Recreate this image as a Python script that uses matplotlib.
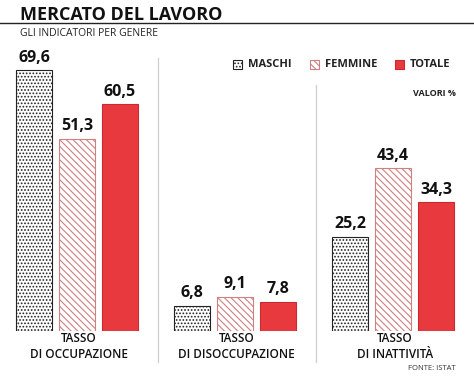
import numpy as np
import matplotlib
matplotlib.use("Agg")
import matplotlib.pyplot as plt
from matplotlib.patches import Rectangle
from matplotlib import transforms

plt.rcParams['font.family'] = ['Open Sans', 'DejaVu Sans']
plt.rcParams['hatch.linewidth'] = 0.8

# data
categories = ["TASSO\nDI OCCUPAZIONE", "TASSO\nDI DISOCCUPAZIONE", "TASSO\nDI INATTIVITÀ"]
series_names = ["MASCHI", "FEMMINE", "TOTALE"]
maschi = [69.6, 6.8, 25.2]
femmine = [51.3, 9.1, 43.4]
totale = [60.5, 7.8, 34.3]

red = '#e8393f'
pink = '#cf8080'

fig = plt.figure(figsize=(4.74, 3.77), dpi=100)
ax = fig.add_axes([0, 46/377, 1, 300/377])
ax.set_xlim(-77/158, (474-77)/158)
ax.set_ylim(0, 80)
ax.axis('off')

x = np.arange(len(categories))
w = 0.228
off = 0.272
styles = [
    dict(facecolor='white', edgecolor='#222222', hatch='.....', linewidth=0.8),
    dict(facecolor='white', edgecolor=pink, hatch='\\\\\\\\\\', linewidth=0.8),
    dict(facecolor=red, edgecolor='#c92a30', linewidth=0.8),
]
for j, vals in enumerate([maschi, femmine, totale]):
    bars = ax.bar(x + (j - 1) * off, vals, width=w, **styles[j])
    for b, v in zip(bars, vals):
        ax.text(b.get_x() + b.get_width()/2, v + 1.2, f"{v:.1f}".replace('.', ','),
                ha='center', va='bottom', fontsize=11.5, fontweight='bold', color='#111111')

for i, c in enumerate(categories):
    ax.text(i + 0.01, -0.3, c, ha='center', va='top', fontsize=8.5, fontweight='semibold',
            color='#111111', linespacing=1.25)

# separators
tr = transforms.blended_transform_factory(ax.transData, fig.transFigure)
ax.plot([0.51, 0.51], [1-58/377, 1-362/377], transform=tr, color='#cfcfcf', lw=0.9, clip_on=False)
ax.plot([1.51, 1.51], [1-85/377, 1-362/377], transform=tr, color='#cfcfcf', lw=0.9, clip_on=False)

# title
fig.text(20/474, 1-20/377, "MERCATO DEL LAVORO", fontsize=13, fontweight='bold',
         color='#111111', va='baseline')
fig.add_artist(plt.Line2D([0, 1], [1-23/377, 1-23/377], color='#222222', lw=1.0))
fig.text(20/474, 1-36/377, "GLI INDICATORI PER GENERE", fontsize=7.5, color='#222222', va='baseline')

# legend, drawn by hand
leg_sq = [233, 310, 395]
for px, name, st in zip(leg_sq, series_names, styles):
    fig.add_artist(Rectangle((px/474, 1-69/377), 9/474, 9/377, transform=fig.transFigure, **st))
    fig.text((px + 15)/474, 1-64.5/377, name, fontsize=8, fontweight='bold', color='#222222',
             va='center', ha='left')

fig.text(456/474, 1-93/377, "VALORI %", fontsize=6.5, fontweight='bold', color='#222222',
         ha='right', va='center')
fig.text(456/474, 1-368/377, "FONTE: ISTAT", fontsize=5.5, color='#333333', ha='right', va='center')

fig.savefig('out.png', dpi=100)
